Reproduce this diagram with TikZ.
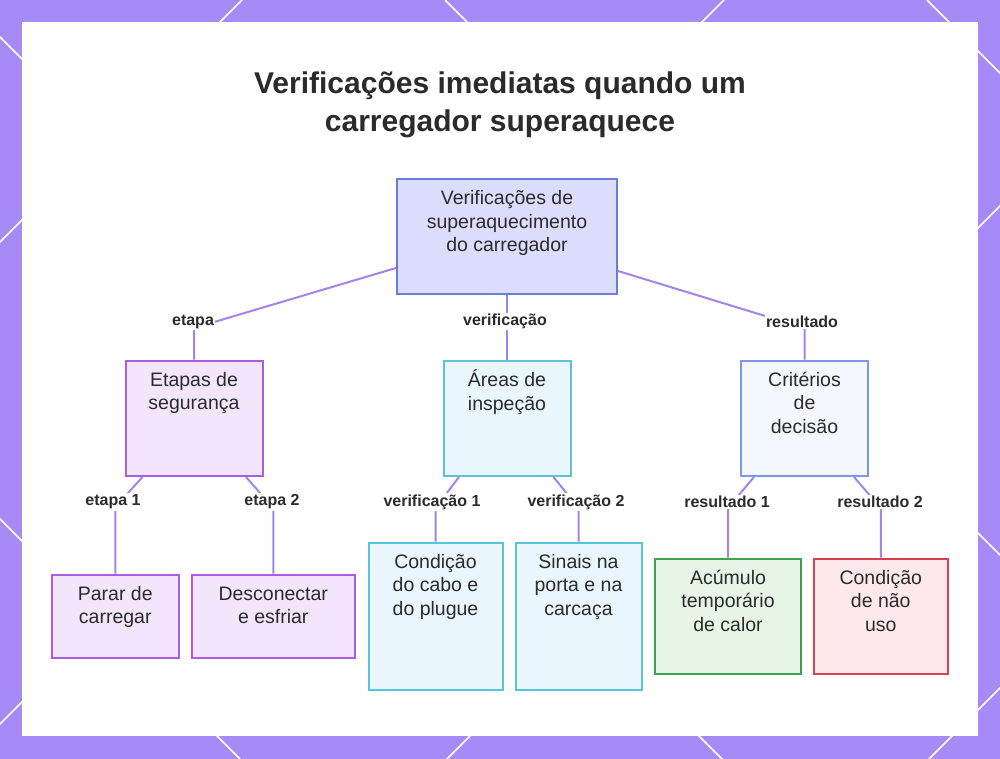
\documentclass[tikz,border=0pt]{standalone}
\usepackage{fontspec}
\setmainfont{Liberation Sans}
\definecolor{bgpurple}{HTML}{A68BF6}
\definecolor{conncol}{HTML}{A284EC}
\definecolor{txt}{HTML}{2B2B2B}
\definecolor{rootfill}{HTML}{DCDDFC}
\definecolor{rootdraw}{HTML}{6B7BD8}
\definecolor{pfill}{HTML}{F3E6FC}
\definecolor{pdraw}{HTML}{AA5EE0}
\definecolor{cfill}{HTML}{EAF6FD}
\definecolor{cdraw}{HTML}{5BC2DC}
\definecolor{bfill}{HTML}{F5F7FF}
\definecolor{bdraw}{HTML}{7E96E6}
\definecolor{gfill}{HTML}{E7F5E7}
\definecolor{gdraw}{HTML}{3DA34F}
\definecolor{rfill}{HTML}{FDE9EC}
\definecolor{rdraw}{HTML}{D8404F}
\newcommand\boxtxt[3]{\parbox[c][#2][t]{#1}{\centering\vspace*{9.5pt}\strut #3}}
\tikzset{
  boxbase/.style={draw, line width=2pt, inner sep=0pt, text=txt,
    font=\fontsize{19.5}{23.5}\selectfont},
  rootbox/.style={boxbase, fill=rootfill, draw=rootdraw},
  pbox/.style={boxbase, fill=pfill, draw=pdraw},
  cbox/.style={boxbase, fill=cfill, draw=cdraw},
  bbox/.style={boxbase, fill=bfill, draw=bdraw},
  gbox/.style={boxbase, fill=gfill, draw=gdraw},
  rbox/.style={boxbase, fill=rfill, draw=rdraw},
  conn/.style={draw=conncol, line width=2pt, line join=round},
  elabel/.style={fill=white, inner sep=1.5pt, text=txt,
    font=\fontsize{16}{18}\selectfont\bfseries},
  titlestyle/.style={align=center, text=txt, inner sep=0pt,
    font=\fontsize{30}{38.4}\selectfont\bfseries},
  lattice/.style={draw=white, line width=1.5pt}
}
\begin{document}
\begin{tikzpicture}[x=1pt, y=-1pt]
\useasboundingbox (0,0) rectangle (1000,759);
% background
\fill[bgpurple] (0,0) rectangle (1000,759);
\begin{scope}
  \clip (0,0) rectangle (1000,759);
  \foreach \c in {242,724,1206,1688} \draw[lattice] (\c,0) -- (\c-759,759);
  \foreach \c in {519,37,-445,-927} \draw[lattice] (-\c,0) -- (759-\c,759);
\end{scope}
\fill[white] (22,22) rectangle (978,736);

% title
\node[titlestyle] (title) at (500,105) {Verificações imediatas quando um\\carregador superaquece};

% nodes
\node[rootbox] (root) at (507,236.5) {\boxtxt{220pt}{115pt}{Verificações de\\superaquecimento\\do carregador}};
\node[pbox] (A) at (194,418.25) {\boxtxt{137pt}{115.5pt}{Etapas de\\segurança}};
\node[cbox] (B) at (507,418.25) {\boxtxt{127pt}{115.5pt}{Áreas de\\inspeção}};
\node[bbox] (C) at (804.5,418.25) {\boxtxt{127pt}{115.5pt}{Critérios\\de\\decisão}};
\node[pbox] (A1) at (115.25,616) {\boxtxt{126.5pt}{83pt}{Parar de\\carregar}};
\node[pbox] (A2) at (273.25,616) {\boxtxt{163.5pt}{83pt}{Desconectar\\e esfriar}};
\node[cbox] (B1) at (435.5,616.25) {\boxtxt{134pt}{147.5pt}{Condição\\do cabo e\\do plugue}};
\node[cbox] (B2) at (578.5,616.25) {\boxtxt{126pt}{147.5pt}{Sinais na\\porta e na\\carcaça}};
\node[gbox] (C1) at (728,616.25) {\boxtxt{146pt}{115.5pt}{Acúmulo\\temporário\\de calor}};
\node[rbox] (C2) at (880.75,616.25) {\boxtxt{133.5pt}{115.5pt}{Condição\\de não\\uso}};

% bend points
\coordinate (ka) at (194,328);
\coordinate (kc) at (804.5,328);
\coordinate (ka1) at (115.25,507);
\coordinate (ka2) at (273.25,508);
\coordinate (kb1) at (435.5,508);
\coordinate (kb2) at (578.5,508);
\coordinate (kc1) at (728,508);
\coordinate (kc2) at (880.75,508);

% connectors
\draw[conn] ([yshift=27pt]root.south west) -- (ka) -- (A.north);
\draw[conn] (root.south) -- (B.north);
\draw[conn] ([yshift=24pt]root.south east) -- (kc) -- (C.north);
\draw[conn] ([xshift=18pt]A.south west) -- (ka1) -- (A1.north);
\draw[conn] ([xshift=-17.5pt]A.south east) -- (ka2) -- (A2.north);
\draw[conn] ([xshift=16.5pt]B.south west) -- (kb1) -- (B1.north);
\draw[conn] ([xshift=-18pt]B.south east) -- (kb2) -- (B2.north);
\draw[conn] ([xshift=14pt]C.south west) -- (kc1) -- (C1.north);
\draw[conn] ([xshift=-15pt]C.south east) -- (kc2) -- (C2.north);

% connector labels
\node[elabel] (la) at (193,321.5) {etapa};
\node[elabel] (lb) at (505,321.5) {verificação};
\node[elabel] (lc) at (802,321.5) {resultado};
\node[elabel] (la1) at (113,502) {etapa 1};
\node[elabel] (la2) at (272,502) {etapa 2};
\node[elabel] (lb1) at (432,502) {verificação 1};
\node[elabel] (lb2) at (576,502) {verificação 2};
\node[elabel] (lc1) at (727,502) {resultado 1};
\node[elabel] (lc2) at (880,502) {resultado 2};
\end{tikzpicture}
\end{document}
